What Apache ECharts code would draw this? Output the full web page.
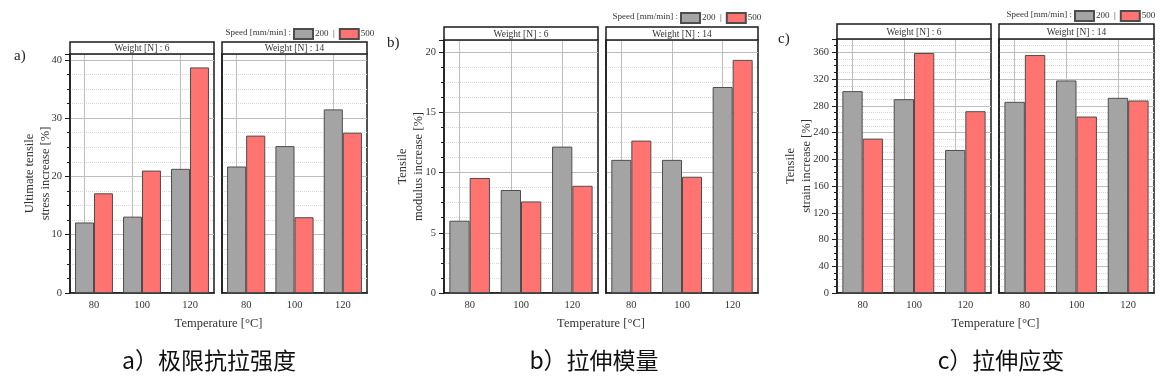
<!DOCTYPE html>
<html><head><meta charset="utf-8">
<script src="https://cdn.jsdelivr.net/npm/echarts@6/dist/echarts.min.js"></script>
<style>html,body{margin:0;padding:0;background:#fff}#c{width:1171px;height:391px}</style>
</head><body><div id="c"></div><script>
// ---- data ----
const temperatures = ['80', '100', '120'];
const weights = ['6', '14'];
const speeds = ['200', '500'];
// a) Ultimate tensile stress increase [%]
const stressW6_200 = [12.1, 13.1, 21.3];
const stressW6_500 = [17.1, 21.0, 38.7];
const stressW14_200 = [21.7, 25.2, 31.5];
const stressW14_500 = [27.0, 13.0, 27.5];
// b) Tensile modulus increase [%]
const modulusW6_200 = [6.0, 8.55, 12.15];
const modulusW6_500 = [9.55, 7.6, 8.9];
const modulusW14_200 = [11.05, 11.05, 17.1];
const modulusW14_500 = [12.65, 9.65, 19.35];
// c) Tensile strain increase [%]
const strainW6_200 = [302, 290, 214];
const strainW6_500 = [231, 359, 272];
const strainW14_200 = [286, 318, 292];
const strainW14_500 = [356, 264, 288];

// ---- layout ----
const SERIF = '"Liberation Serif", "DejaVu Serif", serif';
const CJK = '"Noto Sans CJK SC", sans-serif';
const panels = [
  { facets: [[70, 214], [222, 367]], top: 54, bottom: 293, stripTop: 42,
    yName: 'Ultimate tensile\nstress increase [%]', nameGap: 16, max: 41, interval: 10, minor: 4,
    data: [[stressW6_200, stressW6_500], [stressW14_200, stressW14_500]],
    legendX: 293, legendY: 28, tag: 'a)', tagX: 14, tagY: 56,
    caption: 'a）极限抗拉强度', captionX: 209 },
  { facets: [[444, 598], [606, 758]], top: 40, bottom: 293, stripTop: 27,
    yName: 'Tensile\nmodulus increase [%]', nameGap: 17, max: 21, interval: 5, minor: 4,
    data: [[modulusW6_200, modulusW6_500], [modulusW14_200, modulusW14_500]],
    legendX: 680, legendY: 12, tag: 'b)', tagX: 387, tagY: 43,
    caption: 'b）拉伸模量', captionX: 594 },
  { facets: [[837, 991], [999, 1154]], top: 39, bottom: 293, stripTop: 24,
    yName: 'Tensile\nstrain increase [%]', nameGap: 22, max: 380, interval: 40, minor: 4,
    data: [[strainW6_200, strainW6_500], [strainW14_200, strainW14_500]],
    legendX: 1074, legendY: 10, tag: 'c)', tagX: 778, tagY: 39,
    caption: 'c）拉伸应变', captionX: 1001 }
];
const colors = ['#a4a4a4', '#ff7471'];

const grid = [], xAxis = [], yAxis = [], series = [], legend = [], graphic = [];
let gi = 0;
panels.forEach(p => {
  p.facets.forEach((f, fi) => {
    const [l, r] = f;
    const first = fi === 0;
    grid.push({ left: l, top: p.top, width: r - l, height: p.bottom - p.top,
      show: true, borderColor: '#1a1a1a', borderWidth: 1.5, backgroundColor: 'transparent' });
    xAxis.push({ type: 'category', gridIndex: gi, data: temperatures,
      axisLine: { lineStyle: { color: '#1a1a1a', width: 1.5 } },
      axisTick: { alignWithLabel: true, length: 4, lineStyle: { color: '#1a1a1a' } },
      axisLabel: { fontFamily: SERIF, fontSize: 10.5, color: '#333', margin: 7 },
      splitLine: { show: false } });
    yAxis.push({ type: 'value', gridIndex: gi, min: 0, max: p.max, interval: p.interval,
      name: first ? p.yName : '', nameLocation: 'middle', nameGap: p.nameGap, nameMoveOverlap: false,
      nameTextStyle: { fontFamily: SERIF, fontSize: 12.5, color: '#333', lineHeight: 16 },
      axisLine: { show: true, lineStyle: { color: '#1a1a1a', width: 1.5 } },
      axisTick: { show: first, length: 5, lineStyle: { color: '#1a1a1a' } },
      minorTick: { show: first, splitNumber: p.minor, length: 3, lineStyle: { color: '#1a1a1a' } },
      axisLabel: { show: first, showMaxLabel: false, fontFamily: SERIF, fontSize: 10.5, color: '#333', margin: 8 },
      splitLine: { show: true, lineStyle: { color: '#bdbdbd', width: 1 } },
      minorSplitLine: { show: true, lineStyle: { color: '#d6d6d6', type: 'dotted', width: 1 } } });
    speeds.forEach((s, si) => {
      const ser = { type: 'bar', name: s, xAxisIndex: gi, yAxisIndex: gi,
        data: p.data[fi][si], barGap: '0%', barCategoryGap: '21%',
        itemStyle: { color: colors[si], borderColor: '#4d4d4d', borderWidth: 1 },
        emphasis: { disabled: true }, silent: true };
      if (si === 0) {
        ser.markLine = { silent: true, symbol: 'none', z: 1, animation: false,
          label: { show: false },
          lineStyle: { color: '#bdbdbd', type: 'solid', width: 1 },
          data: temperatures.map(t => ({ xAxis: t })) };
      }
      series.push(ser);
    });
    // facet strip
    graphic.push({ type: 'rect', shape: { x: l, y: p.stripTop, width: r - l, height: p.top - p.stripTop },
      style: { fill: '#fff', stroke: '#1a1a1a', lineWidth: 1.5 }, z: 10 });
    graphic.push({ type: 'text', x: (l + r) / 2, y: (p.stripTop + p.top) / 2 + 0.5, z: 11,
      style: { text: 'Weight [N] : ' + weights[fi], font: '9.5px ' + SERIF, fill: '#333',
        align: 'center', verticalAlign: 'middle' } });
    gi++;
  });
  // x axis title
  const cx = (p.facets[0][0] + p.facets[1][1]) / 2;
  graphic.push({ type: 'text', x: cx, y: 324, style: { text: 'Temperature [°C]', font: '12.5px ' + SERIF,
    fill: '#333', align: 'center', verticalAlign: 'middle' } });
  // legend prefix
  graphic.push({ type: 'text', x: p.legendX - 2, y: p.legendY + 5, style: { text: 'Speed [mm/min] :',
    font: '9px ' + SERIF, fill: '#333', align: 'right', verticalAlign: 'middle' } });
  legend.push({ left: p.legendX, top: p.legendY, itemWidth: 19, itemHeight: 10, itemGap: 4,
    icon: 'rect', selectedMode: false, data: speeds, padding: 0,
    formatter: n => n === speeds[0] ? n + '  |' : n,
    textStyle: { fontFamily: SERIF, fontSize: 9, color: '#333', padding: [0, 0, 0, -3] } });
  // panel tag
  graphic.push({ type: 'text', x: p.tagX, y: p.tagY, style: { text: p.tag, font: '15px ' + SERIF,
    fill: '#222', align: 'left', verticalAlign: 'middle' } });
  // caption
  graphic.push({ type: 'text', x: p.captionX, y: 360, style: { text: p.caption, font: '23px ' + CJK,
    fill: '#111', align: 'center', verticalAlign: 'middle' } });
});

const chart = echarts.init(document.getElementById('c'), null, { renderer: 'canvas' });
chart.setOption({ animation: false, backgroundColor: '#fff', grid, xAxis, yAxis, series, legend, graphic });
</script></body></html>
